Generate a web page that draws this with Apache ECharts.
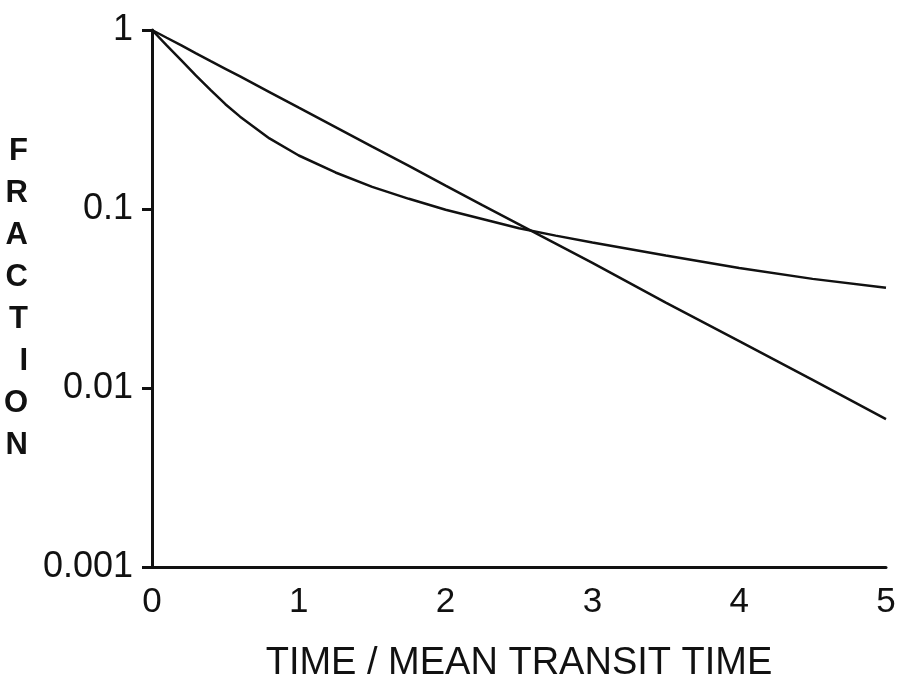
<!DOCTYPE html>
<html>
<head>
<meta charset="utf-8">
<script src="https://cdn.jsdelivr.net/npm/echarts@6/dist/echarts.min.js"></script>
<style>
  html, body { margin: 0; padding: 0; background: #fff; }
  #chart { width: 897px; height: 682px; }
</style>
</head>
<body>
<div id="chart"></div>
<script>
// time / mean transit time
const times = [0, 0.1, 0.2, 0.3, 0.4, 0.5, 0.6, 0.8, 1.0, 1.25, 1.5, 1.75, 2.0, 2.25, 2.5, 2.75, 3.0, 3.5, 4.0, 4.5, 5.0]
// straight (single exponential) curve
const fracSteep = [1.0, 0.905, 0.82, 0.74, 0.67, 0.607, 0.55, 0.45, 0.368, 0.287, 0.223, 0.174, 0.135, 0.105, 0.082, 0.064, 0.050, 0.030, 0.0183, 0.0111, 0.0067]
// curved (long tail) curve
const fracTail = [1.0, 0.82, 0.676, 0.556, 0.462, 0.385, 0.328, 0.248, 0.199, 0.16, 0.133, 0.114, 0.099, 0.088, 0.078, 0.071, 0.065, 0.055, 0.0468, 0.0407, 0.0363]
const yTickLabels = { 1: '1', 0.1: '0.1', 0.01: '0.01', 0.001: '0.001' }

const chart = echarts.init(document.getElementById('chart'))
const ink = '#111'
const font = '"Liberation Sans", Arial, sans-serif'

function pairs(ys) {
  return times.map((t, i) => [t, ys[i]])
}

const option = {
  animation: false,
  backgroundColor: '#fff',
  grid: { left: 152, right: 11, top: 30, bottom: 115, containLabel: false, outerBoundsMode: 'none' },
  xAxis: {
    type: 'value',
    min: 0,
    max: 5,
    interval: 1,
    name: 'TIME / MEAN TRANSIT TIME',
    nameLocation: 'middle',
    nameGap: 78,
    nameTextStyle: { color: ink, fontSize: 38, fontFamily: font },
    axisLine: { show: true, lineStyle: { color: ink, width: 3 } },
    axisTick: { show: false },
    splitLine: { show: false },
    axisLabel: { color: ink, fontSize: 35, fontFamily: font, margin: 18 }
  },
  yAxis: {
    type: 'log',
    logBase: 10,
    min: 0.001,
    max: 1,
    name: 'F\nR\nA\nC\nT\nI\nO\nN',
    nameLocation: 'middle',
    nameRotate: 0,
    nameGap: 124,
    nameTextStyle: { color: ink, fontSize: 31, fontWeight: 'bold', fontFamily: font, lineHeight: 42 },
    axisLine: { show: true, lineStyle: { color: ink, width: 3 } },
    axisTick: { show: true, length: 10, lineStyle: { color: ink, width: 3 } },
    splitLine: { show: false },
    axisLabel: {
      color: ink,
      fontSize: 36,
      fontFamily: font,
      margin: 19,
      formatter: v => yTickLabels[v] || ''
    }
  },
  series: [
    {
      type: 'line',
      data: pairs(fracSteep),
      showSymbol: false,
      lineStyle: { color: ink, width: 2.5 }
    },
    {
      type: 'line',
      data: pairs(fracTail),
      showSymbol: false,
      lineStyle: { color: ink, width: 2.5 }
    }
  ]
}

chart.setOption(option)
window.addEventListener('resize', () => { chart.resize() })
</script>
</body>
</html>
